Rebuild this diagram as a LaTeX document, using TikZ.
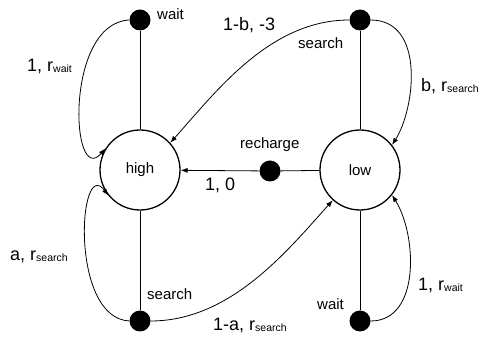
\documentclass[tikz,border=0pt]{standalone}
\usepackage{fontspec}
\setmainfont{Liberation Sans}
\usetikzlibrary{arrows.meta}
\newcommand{\rsub}[1]{r\raisebox{-1pt}{\fontsize{10.5}{12}\selectfont #1}}
\begin{document}
\begin{tikzpicture}[x=1pt,y=1pt,
  state/.style={circle,draw,line width=1.3pt,minimum size=80pt,inner sep=0pt,font=\fontsize{15}{18}\selectfont},
  act/.style={circle,fill=black,minimum size=21pt,inner sep=0pt},
  albl/.style={font=\fontsize{15}{18}\selectfont,inner sep=0pt,anchor=base west},
  plbl/.style={font=\fontsize{18}{21}\selectfont,inner sep=0pt,anchor=base west},
  conn/.style={line width=0.8pt},
  arr/.style={line width=0.8pt,-{Latex[length=7pt,width=5pt]}}]
\useasboundingbox (0,0) rectangle (482,337);
\node[state] (high) at (140,167) {high};
\node[state] (low) at (360,167) {low};
\node[act] (w1) at (140,317) {};
\node[act] (s1) at (360,317) {};
\node[act] (s2) at (140,16) {};
\node[act] (w2) at (360,16) {};
\node[act] (r) at (270,166) {};
% straight lines
\draw[conn] (w1) -- (high);
\draw[conn] (s1) -- (low);
\draw[conn] (s2) -- (high);
\draw[conn] (w2) -- (low);
\draw[conn] (low) -- (r);
\draw[arr] (r) -- (high);
% curves
\draw[arr] (w1.west) .. controls +(-65,-3) and +(-35,-40) .. (high.148);
\draw[arr] (s1.west) .. controls +(-80,0) and +(45,50) .. (high.42);
\draw[arr] (s1.east) .. controls +(55,0) and +(23,36) .. (low.38);
\draw[arr] (s2.west) .. controls +(-60,3) and +(-30,40) .. (high.219);
\draw[arr] (s2.east) .. controls +(80,0) and +(-45,-50) .. (low.228);
\draw[arr] (w2.east) .. controls +(50,0) and +(25,-40) .. (low.322);
% labels
\node[albl] (lw1) at (157,317.5) {wait};
\node[plbl] (lr1) at (27,265.5) {1, \rsub{wait}};
\node[plbl] (lb) at (223,306) {1-b, -3};
\node[albl] (ls1) at (298,288) {search};
\node[plbl] (lbr) at (421,245) {b, \rsub{search}};
\node[albl] (lrc) at (240,188) {recharge};
\node[plbl] (l10) at (205,146) {1, 0};
\node[plbl] (la) at (10,76) {a, \rsub{search}};
\node[albl] (ls2) at (147,37) {search};
\node[plbl] (l1a) at (213,6.3) {1-a, \rsub{search}};
\node[albl] (lw2) at (317,27) {wait};
\node[plbl] (lr2) at (418,46) {1, \rsub{wait}};
\end{tikzpicture}
\end{document}
